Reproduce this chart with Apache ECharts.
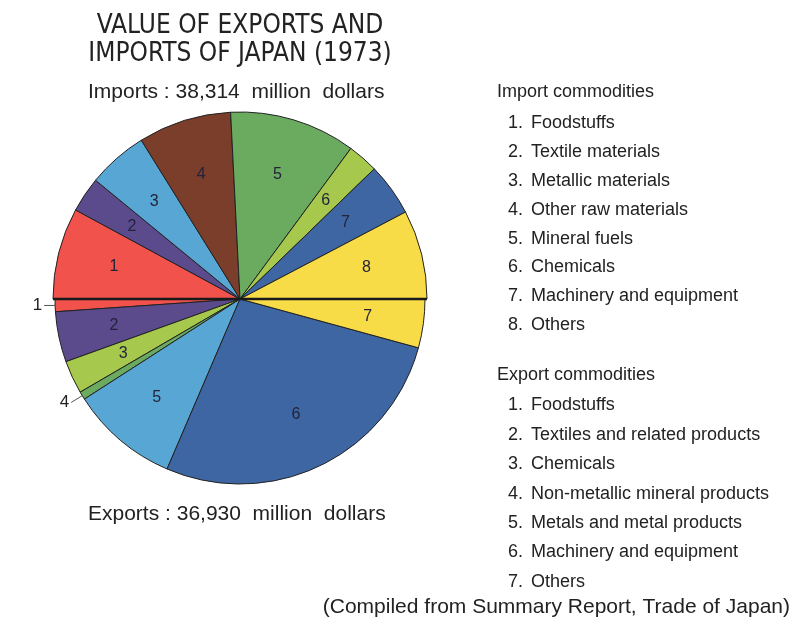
<!DOCTYPE html>
<html>
<head>
<meta charset="utf-8">
<script src="https://cdn.jsdelivr.net/npm/echarts@6/dist/echarts.min.js"></script>
<style>
  html, body { margin: 0; padding: 0; background: #ffffff; }
  #chart { width: 794px; height: 624px; }
</style>
</head>
<body>
<div id="chart"></div>
<script>
// Japan's foreign trade, 1973 — shares of total value (%)
const importNames = ['Foodstuffs', 'Textile materials', 'Metallic materials', 'Other raw materials',
  'Mineral fuels', 'Chemicals', 'Machinery and equipment', 'Others'];
const importShares = [15.8, 6.1, 10.4, 16.1, 21.8, 5.3, 9.1, 15.4];
const importColors = ['#f2524c', '#5b4b8c', '#58a6d4', '#7a3e2b', '#6aab5f', '#a6c84c', '#3d66a3', '#f7dc48'];

const exportNames = ['Foodstuffs', 'Textiles and related products', 'Chemicals', 'Non-metallic mineral products',
  'Metals and metal products', 'Machinery and equipment', 'Others'];
const exportShares = [2.2, 8.8, 5.8, 1.4, 18.9, 54.4, 8.5];
const exportColors = ['#f2524c', '#5b4b8c', '#a6c84c', '#6aab5f', '#58a6d4', '#3d66a3', '#f7dc48'];
// slices too thin for an inside number get a pointer label instead
const exportOutsideLabels = [0, 3];

const importTotal = '38,314';
const exportTotal = '36,930';

const titleLines = ['VALUE OF EXPORTS AND', 'IMPORTS OF JAPAN (1973)'];
const footnote = '(Compiled from Summary Report, Trade of Japan)';

// layout
const CX = 240, CY = 299;
const R_IMP = 187, R_EXP = 185;
const TEXT_FONT = '"Liberation Sans", Arial, sans-serif';
const TITLE_FONT = '"DejaVu Sans Condensed", "Liberation Sans Narrow", "Liberation Sans", sans-serif';
const INK = '#222222';

function sliceData(names, shares, colors, extra) {
  return names.map((n, i) => Object.assign({
    name: n,
    value: shares[i],
    itemStyle: { color: colors[i] }
  }, extra ? extra(i) : {}));
}

const numLabel = {
  show: true,
  position: 'inside',
  formatter: p => String(p.dataIndex + 1),
  fontFamily: TEXT_FONT,
  fontSize: 16,
  color: '#23233a'
};

const series = [
  // imports: upper half, left → over the top → right
  {
    type: 'pie', silent: true, animation: false,
    center: [CX, CY], radius: [0, R_IMP],
    startAngle: 180, endAngle: 0, clockwise: true,
    avoidLabelOverlap: false,
    label: { show: false }, labelLine: { show: false },
    itemStyle: { borderColor: INK, borderWidth: 1 },
    data: sliceData(importNames, importShares, importColors)
  },
  {
    type: 'pie', silent: true, animation: false,
    center: [CX, CY], radius: [R_IMP * 0.36, R_IMP],
    startAngle: 180, endAngle: 0, clockwise: true,
    avoidLabelOverlap: false,
    label: numLabel, labelLine: { show: false },
    itemStyle: { color: 'rgba(0,0,0,0)', borderWidth: 0 },
    data: importNames.map((n, i) => ({ name: n, value: importShares[i] }))
  },
  // exports: lower half, left → under the bottom → right
  {
    type: 'pie', silent: true, animation: false,
    center: [CX, CY], radius: [0, R_EXP],
    startAngle: 180, endAngle: 360, clockwise: false,
    avoidLabelOverlap: false,
    label: { show: false }, labelLine: { show: false },
    itemStyle: { borderColor: INK, borderWidth: 1 },
    data: sliceData(exportNames, exportShares, exportColors, i => exportOutsideLabels.includes(i) ? {
      label: {
        show: true, position: 'outside',
        formatter: p => String(p.dataIndex + 1),
        fontFamily: TEXT_FONT, fontSize: 17, color: INK,
        distanceToLabelLine: 2
      },
      labelLine: {
        show: true,
        length: i === 0 ? 2 : 13,
        length2: i === 0 ? 9 : 0,
        lineStyle: { color: '#555', width: 1 }
      }
    } : {})
  },
  {
    type: 'pie', silent: true, animation: false,
    center: [CX, CY], radius: [R_EXP * 0.36, R_EXP],
    startAngle: 180, endAngle: 360, clockwise: false,
    avoidLabelOverlap: false,
    label: numLabel, labelLine: { show: false },
    itemStyle: { color: 'rgba(0,0,0,0)', borderWidth: 0 },
    data: exportNames.map((n, i) => ({
      name: n, value: exportShares[i],
      label: { show: !exportOutsideLabels.includes(i) }
    }))
  }
];

// text blocks
const graphics = [];
function addText(x, y, text, font, align) {
  graphics.push({
    type: 'text', x: x, y: y, silent: true,
    style: { text: text, font: font, fill: INK, align: align || 'left', verticalAlign: 'middle' }
  });
}
// dividing line between the two halves
graphics.push({
  type: 'line', silent: true, z: 100,
  shape: { x1: CX - R_IMP, y1: CY, x2: CX + R_IMP, y2: CY },
  style: { stroke: '#1a1a1a', lineWidth: 2.5 }
});
titleLines.forEach((t, i) => addText(CX, 26 + i * 28.5, t, '26px ' + TITLE_FONT, 'center'));
addText(88, 92, 'Imports : ' + importTotal + '  million  dollars', '21px ' + TEXT_FONT);
addText(88, 514, 'Exports : ' + exportTotal + '  million  dollars', '21px ' + TEXT_FONT);

function legendBlock(header, names, headerY, firstY, step) {
  addText(497, headerY, header, '18px ' + TEXT_FONT);
  names.forEach((n, i) => {
    const y = firstY + i * step;
    addText(508, y, (i + 1) + '.', '18px ' + TEXT_FONT);
    addText(531, y, n, '18px ' + TEXT_FONT);
  });
}
legendBlock('Import commodities', importNames, 92, 123, 28.9);
legendBlock('Export commodities', exportNames, 375, 405.5, 29.4);

addText(790, 607, footnote, '21px ' + TEXT_FONT, 'right');

const chart = echarts.init(document.getElementById('chart'), null, { renderer: 'canvas' });
chart.setOption({
  backgroundColor: '#ffffff',
  animation: false,
  series: series,
  graphic: graphics
});
</script>
</body>
</html>
